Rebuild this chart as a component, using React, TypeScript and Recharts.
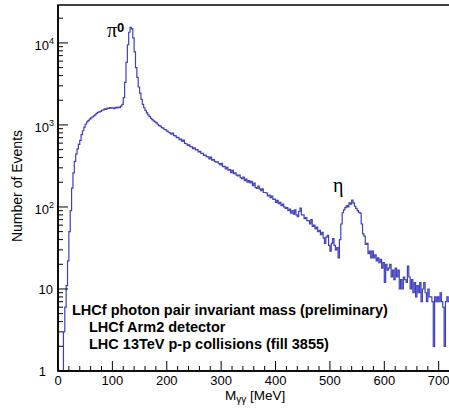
import { LineChart, Line, XAxis, YAxis, ReferenceArea } from 'recharts';

// histogram: 2.5 MeV bins, first bin starts at 7.5 MeV
const binStart = 7.5;
const binWidth = 2.5;
const counts = [
  0, 3, 6, 11, 22, 50, 90, 170, 260, 360,
  440, 510, 580, 650, 760, 850, 940, 1020, 1090, 1130,
  1180, 1220, 1250, 1290, 1330, 1380, 1420, 1440, 1460, 1510,
  1530, 1570, 1550, 1600, 1590, 1630, 1600, 1620, 1580, 1640,
  1610, 1650, 1620, 1700, 1780, 2150, 3300, 5800, 9500, 13500,
  15500, 14800, 11500, 7800, 5000, 3800, 2900, 2450, 2050, 1780,
  1620, 1500, 1400, 1330, 1260, 1200, 1160, 1120, 1090, 1060,
  1020, 980, 965, 925, 915, 880, 870, 840, 815, 800,
  770, 795, 740, 735, 700, 705, 660, 670, 630, 655,
  595, 590, 565, 570, 545, 540, 515, 525, 495, 500,
  470, 478, 450, 452, 425, 428, 410, 408, 385, 405,
  372, 378, 360, 352, 356, 338, 325, 340, 310, 312,
  292, 305, 282, 285, 262, 280, 255, 260, 245, 240,
  245, 228, 222, 232, 210, 218, 200, 210, 196, 205,
  182, 195, 172, 168, 180, 166, 158, 166, 150, 150,
  148, 136, 140, 130, 136, 124, 125, 114, 120, 110,
  114, 104, 108, 100, 96, 98, 90, 94, 84, 90,
  82, 92, 80, 76, 88, 97, 80, 80, 72, 74,
  68, 68, 62, 70, 58, 60, 54, 57, 50, 52,
  46, 49, 42, 36, 43, 45, 34, 29, 36, 41,
  34, 30, 32, 24, 40, 62, 85, 92, 98, 104,
  100, 112, 108, 121, 112, 102, 96, 90, 86, 84,
  62, 47, 44, 35, 36, 27, 29, 24, 29, 24,
  26, 22, 24, 21, 23, 18, 21, 12, 20, 17,
  18, 20, 14, 17, 13, 18, 14, 17, 10, 13,
  10, 14, 13, 12, 19, 14, 10, 13, 9, 12,
  8, 11, 9, 12, 7, 10, 12, 9, 7, 10,
  8, 8, 7, 2, 8, 7, 8, 7, 9, 7,
  6, 2, 7, 8, 7, 7,
];

const xTicks = [0, 20, 40, 60, 80, 100, 120, 140, 160, 180, 200, 220, 240, 260, 280, 300, 320, 340, 360, 380, 400, 420, 440, 460, 480, 500, 520, 540, 560, 580, 600, 620, 640, 660, 680, 700, 720];
const yTicks = [
  1, 2, 3, 4, 5, 6, 7, 8, 9,
  10, 20, 30, 40, 50, 60, 70, 80, 90,
  100, 200, 300, 400, 500, 600, 700, 800, 900,
  1000, 2000, 3000, 4000, 5000, 6000, 7000, 8000, 9000,
  10000, 20000,
];

const xMax = 730;
const yMax = 29000;

// empty bins drawn below the log floor so the edge drops off the frame
const data = counts.map((c, i) => ({ m: binStart + i * binWidth, n: c > 0 ? c : 0.1 }));
data.push({ m: binStart + counts.length * binWidth, n: data[data.length - 1].n });

const sans = '"Liberation Sans", Arial, Helvetica, sans-serif';
const serif = '"Liberation Serif", "Times New Roman", serif';

function XTick({ x, y, payload }: any) {
  const v = payload.value;
  const major = v % 100 === 0;
  return (
    <g>
      <line x1={x} x2={x} y1={y} y2={y - (major ? 10 : 5)} stroke="#000" strokeWidth={1} />
      {major && (
        <text x={x} y={y + 14} textAnchor="middle" fontFamily={sans} fontSize={13} fill="#000">
          {v}
        </text>
      )}
    </g>
  );
}

function YTick({ x, y, payload }: any) {
  const v = payload.value;
  const exp = Math.round(Math.log10(v));
  const major = Math.abs(v - Math.pow(10, exp)) < 1e-6;
  let label = null;
  if (major) {
    if (exp === 0) {
      label = <text x={x - 12} y={y + 5} textAnchor="end" fontFamily={sans} fontSize={13}>1</text>;
    } else if (exp === 1) {
      label = <text x={x - 5} y={y + 5} textAnchor="end" fontFamily={sans} fontSize={13}>10</text>;
    } else {
      label = (
        <text x={x - 4} y={y + 7} textAnchor="end" fontFamily={sans} fontSize={13}>
          10<tspan dy={-6} fontSize={9}>{exp}</tspan>
        </text>
      );
    }
  }
  return (
    <g>
      <line x1={x} x2={x + (major ? 10 : 5)} y1={y} y2={y} stroke="#000" strokeWidth={1} />
      {label}
    </g>
  );
}

export default function App() {
  return (
    <div style={{ position: 'absolute', left: 0, top: 0, width: 449, height: 408, overflow: 'hidden', background: '#fff' }}>
      <LineChart width={460} height={408} data={data} margin={{ top: 5, right: 5, bottom: 0, left: 0 }}>
        <XAxis
          dataKey="m"
          type="number"
          domain={[0, xMax]}
          ticks={xTicks}
          interval={0}
          height={37}
          tickSize={0}
          tickMargin={0}
          tickLine={false}
          axisLine={{ stroke: '#000', strokeWidth: 1.5 }}
          tick={<XTick />}
          allowDataOverflow
        />
        <YAxis
          dataKey="n"
          scale="log"
          domain={[1, yMax]}
          ticks={yTicks}
          interval={0}
          width={58}
          tickSize={0}
          tickMargin={0}
          tickLine={false}
          axisLine={{ stroke: '#000', strokeWidth: 1.5 }}
          tick={<YTick />}
          allowDataOverflow
        />
        <ReferenceArea x1={0} x2={xMax} y1={1} y2={yMax} fill="none" stroke="#000" strokeWidth={1.5} />
        <Line
          type="stepAfter"
          dataKey="n"
          stroke="#3f3fbd"
          strokeWidth={1.2}
          dot={false}
          isAnimationActive={false}
        />
      </LineChart>
      <svg width={449} height={408} style={{ position: 'absolute', left: 0, top: 0, pointerEvents: 'none' }}>
        <text transform="translate(22,186) rotate(-90)" textAnchor="middle" fontFamily={sans} fontSize={14}>
          Number of Events
        </text>
        <text x={225} y={400} fontFamily={sans} fontSize={13.5}>
          M<tspan fontSize={10} dy={3}>γγ</tspan><tspan fontSize={13.5} dy={-3}> [MeV]</tspan>
        </text>
        <text x={107} y={37} fontFamily={serif} fontSize={20}>
          π<tspan fontFamily={sans} fontWeight="bold" fontSize={13} dy={-5}>0</tspan>
        </text>
        <text x={333} y={192} fontFamily={serif} fontSize={20}>η</text>
        <g fontFamily={sans} fontWeight="bold" fontSize={14.5}>
          <text x={72} y={315}>LHCf photon pair invariant mass (preliminary)</text>
          <text x={89} y={332}>LHCf Arm2 detector</text>
          <text x={89} y={349}>LHC 13TeV p-p collisions (fill 3855)</text>
        </g>
      </svg>
    </div>
  );
}
